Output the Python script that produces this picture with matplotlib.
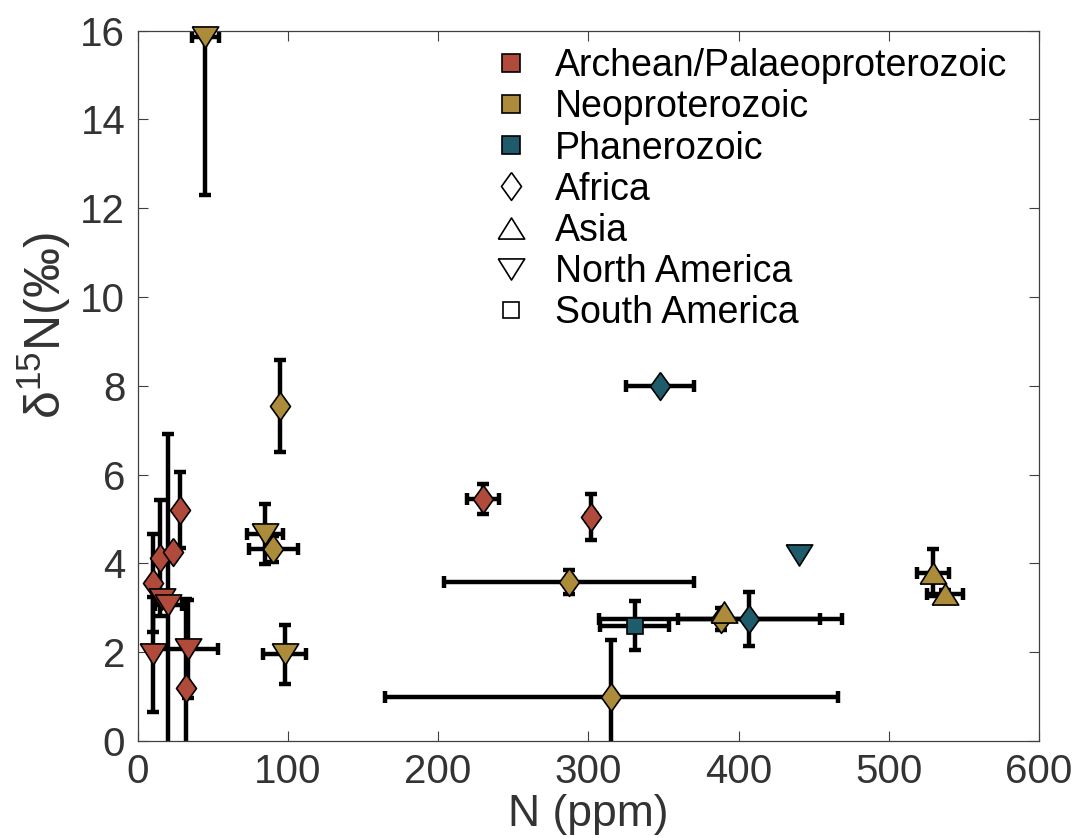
import matplotlib
matplotlib.use('Agg')
import matplotlib.pyplot as plt
from matplotlib.lines import Line2D

plt.rcParams['font.family'] = ['Liberation Sans', 'DejaVu Sans']
plt.rcParams['mathtext.fontset'] = 'custom'
plt.rcParams['mathtext.rm'] = 'Liberation Sans'
plt.rcParams['mathtext.it'] = 'Liberation Sans:italic'

eras = ['Archean/Palaeoproterozoic', 'Neoproterozoic', 'Phanerozoic']
regions = ['Africa', 'Asia', 'North America', 'South America']

# one entry per sample
era = ['Archean/Palaeoproterozoic'] * 11 + ['Neoproterozoic'] * 11 + ['Phanerozoic'] * 4
region = ['Africa', 'Africa', 'Africa', 'Africa', 'Africa', 'Africa', 'Africa',
          'North America', 'North America', 'North America', 'North America',
          'North America', 'Africa', 'North America', 'Africa', 'North America',
          'Africa', 'Africa', 'Africa', 'Asia', 'Asia', 'Asia',
          'Africa', 'South America', 'Africa', 'North America']
n_ppm = [10.2, 14.8, 23.5, 28.2, 32.2, 229.7, 301.8,
         10.2, 16.0, 20.2, 33.5,
         44.8, 94.7, 84.7, 90.3, 98.0, 287.0, 315.3, 388.0, 390.0, 529.3, 537.5,
         347.8, 331.0, 407.0, 440.5]
n_err = [0, 0, 0, 0, 0, 10.5, 3,
         0, 0, 9, 20,
         9, 0, 12, 16.5, 14.3, 83.4, 150.7, 81, 0, 10.5, 12,
         22.5, 23, 47.5, 0]
d15n = [3.56, 4.12, 4.26, 5.2, 1.19, 5.45, 5.05,
        1.95, 3.2, 3.06, 2.07,
        15.85, 7.55, 4.66, 4.32, 1.95, 3.57, 0.98, 2.75, 2.9, 3.79, 3.3,
        8.0, 2.6, 2.75, 4.2]
d15n_err = [1.1, 1.3, 0, 0.85, 2.0, 0.33, 0.52,
            1.3, 0, 3.85, 1.1,
            3.55, 1.03, 0.67, 0.3, 0.66, 0.27, 1.3, 0.25, 0, 0.53, 0.1,
            0, 0.55, 0.6, 0]

colors = {'Archean/Palaeoproterozoic': '#B04A3A',
          'Neoproterozoic': '#AC8B3A',
          'Phanerozoic': '#1E5C6B'}

diamond = [(0, 1), (0.72, 0), (0, -1), (-0.72, 0), (0, 1)]
tri_up = [(-1, -0.8), (1, -0.8), (0, 0.8), (-1, -0.8)]
tri_down = [(-1, 0.8), (1, 0.8), (0, -0.8), (-1, 0.8)]
markers = {'Africa': (diamond, 20), 'Asia': (tri_up, 19),
           'North America': (tri_down, 19), 'South America': ('s', 12)}

fig = plt.figure(figsize=(10.76, 8.38), dpi=100)
ax = fig.add_axes([0.128, 0.1158, 0.8376, 0.8476])

for i in range(len(n_ppm)):
    xe = n_err[i] if n_err[i] > 0 else None
    ye = d15n_err[i] if d15n_err[i] > 0 else None
    if xe is not None or ye is not None:
        ax.errorbar(n_ppm[i], d15n[i], xerr=xe, yerr=ye, fmt='none', ecolor='k',
                    elinewidth=3.2, capsize=4.5, capthick=3.2, zorder=2)

for i in range(len(n_ppm)):
    m, ms = markers[region[i]]
    ax.plot(n_ppm[i], d15n[i], marker=m, ms=ms, mfc=colors[era[i]], mec='k',
            mew=1.2, ls='none', zorder=3, clip_on=False)

ax.set_xlim(0, 600)
ax.set_ylim(0, 16)
ax.set_xticks(range(0, 601, 100))
ax.set_yticks(range(0, 17, 2))
ax.tick_params(direction='in', length=7, width=0.8, top=True, right=True,
               labelsize=29, color='#404040', labelcolor='#333333', pad=9)
for s in ax.spines.values():
    s.set_color('#404040')
    s.set_linewidth(0.9)

ax.set_xlabel('N (ppm)', fontsize=32, color='#333333', labelpad=2)
ax.set_ylabel(r'$\mathregular{\delta^{15}}$N(‰)', fontsize=36, color='#333333')
ax.yaxis.set_label_coords(-0.072, 0.585)

handles = []
for e in eras:
    handles.append(Line2D([], [], marker='s', ms=13, mfc=colors[e], mec='k', mew=1.2,
                          ls='none', label=e))
for r in regions:
    m, ms = markers[r]
    handles.append(Line2D([], [], marker=m, ms=ms, mfc='white', mec='k', mew=1.2,
                          ls='none', label=r))
ax.legend(handles=handles, loc='upper left', bbox_to_anchor=(0.383, 0.975),
          frameon=False, fontsize=27, labelspacing=0.135, handlelength=1.5,
          handletextpad=0.43, borderpad=0, borderaxespad=0)

fig.savefig('out.png', dpi=100)
